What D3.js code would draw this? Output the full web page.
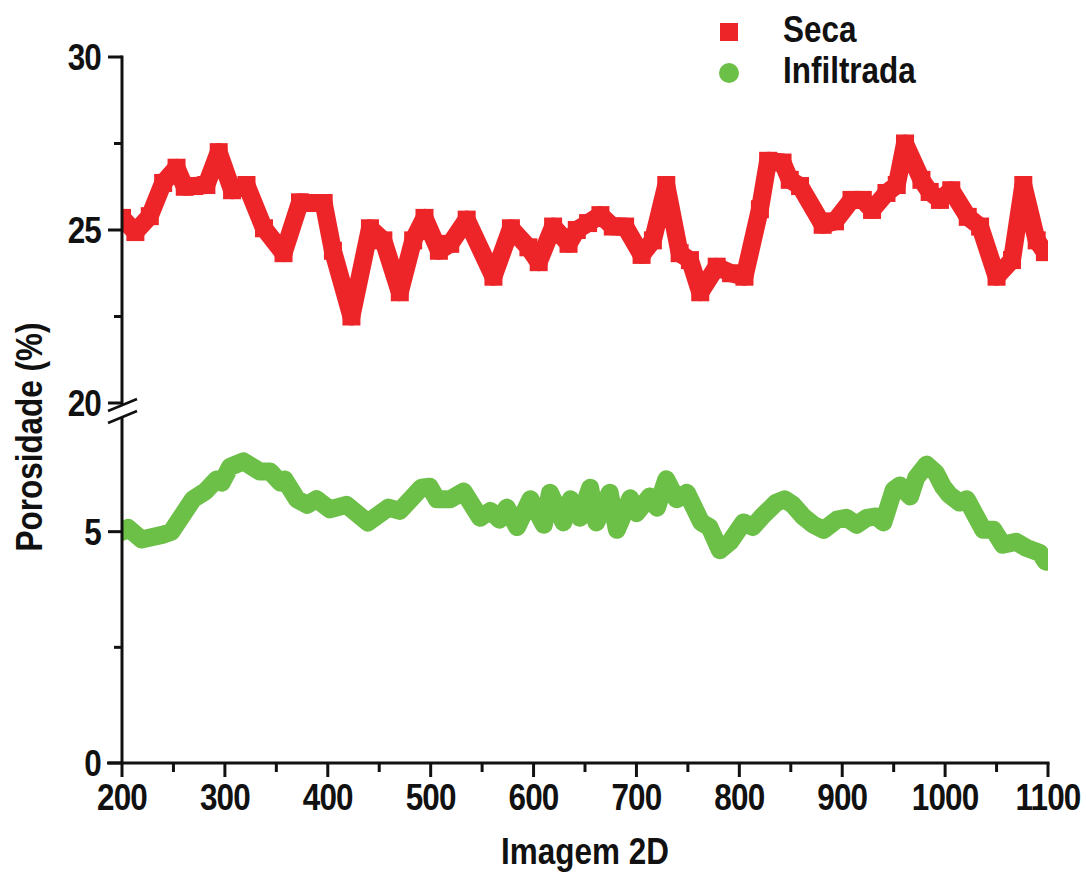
<!DOCTYPE html>
<html><head><meta charset="utf-8">
<script src="https://cdn.jsdelivr.net/npm/d3@7"></script>
<style>
html,body{margin:0;padding:0;background:#fff;}
text{font-family:"Liberation Sans",Arial,sans-serif;font-weight:bold;fill:#111;}
</style></head><body>
<svg id="chart" width="1086" height="873"></svg>
<script>
// ---- data ----
const secaX = [200,213,227,240,253,261,270,282,294,307,321,338,357,373,380,396,405,423,441,454,470,483,494,508,519,535,561,578,595,605,619,634,642,653,665,677,689,705,716,729,742,752,762,778,792,805,820,828,842,849,859,881,893,909,920,929,943,953,961,977,985,995,1006,1022,1034,1050,1065,1076,1089,1097];
const secaY = [25.35,24.94,25.4,26.36,26.8,26.25,26.27,26.3,27.25,26.15,26.3,25.05,24.33,25.8,25.78,25.78,24.4,22.5,25.05,24.7,23.2,24.7,25.35,24.4,24.6,25.3,23.65,25.05,24.5,24.07,25.1,24.6,25.0,25.2,25.43,25.1,25.1,24.28,24.7,26.3,24.33,24.13,23.2,23.94,23.75,23.65,25.6,27.0,26.95,26.45,26.27,25.15,25.25,25.87,25.87,25.58,26.07,26.3,27.5,26.45,26.1,25.87,26.15,25.38,25.1,23.65,24.13,26.3,24.7,24.36];
const infX = [200,206,219,239,248,269,281,292,297,305,318,334,344,354,358,370,380,389,402,418,439,459,470,491,499,506,519,532,548,558,567,574,584,597,610,616,629,636,645,655,661,674,681,694,700,713,720,729,739,749,763,771,781,791,804,813,823,836,844,852,862,872,882,895,904,914,924,933,940,950,956,966,972,982,991,998,1004,1014,1021,1030,1037,1047,1056,1069,1079,1092,1098];
const infY = [5.0,5.08,4.83,4.93,5.0,5.7,5.87,6.13,6.06,6.4,6.52,6.3,6.3,6.06,6.13,5.7,5.58,5.7,5.48,5.58,5.2,5.52,5.45,5.95,5.97,5.7,5.7,5.87,5.3,5.45,5.26,5.52,5.1,5.7,5.15,5.84,5.2,5.7,5.3,5.95,5.2,5.84,5.04,5.72,5.4,5.76,5.52,6.13,5.7,5.84,5.2,5.1,4.6,4.78,5.2,5.1,5.35,5.63,5.7,5.58,5.33,5.15,5.04,5.26,5.3,5.15,5.3,5.33,5.2,5.9,6.0,5.76,6.17,6.45,6.27,5.97,5.8,5.63,5.7,5.33,5.04,5.04,4.72,4.78,4.65,4.54,4.35];
const xTicks = [200,300,400,500,600,700,800,900,1000,1100];
const xMinor = [250,350,450,550,650,750,850,950,1050];
const yUpperTicks = [20,25,30];
const yUpperMinor = [22.5,27.5];
const yLowerTicks = [0,5];
const yLowerMinor = [2.5];
const seriesNames = ["Seca","Infiltrada"];
const colors = {Seca:"#ED2529", Infiltrada:"#6CBF47"};

// ---- scales ----
const x = d3.scaleLinear().domain([200,1100]).range([122,1048]);
const yU = d3.scaleLinear().domain([20,30]).range([403,57]);
const yL = d3.scaleLinear().domain([0,7.5]).range([763,416]);
const SX = 0.85, FS = 37;

const svg = d3.select("#chart");
const defs = svg.append("defs");
defs.append("clipPath").attr("id","clip").append("rect").attr("x",122).attr("y",0).attr("width",926).attr("height",873);

const plot = svg.append("g").attr("clip-path","url(#clip)");
// Seca (upper)
const seca = secaX.map((d,i)=>({x:d,y:secaY[i]}));
plot.append("path").datum(seca)
  .attr("d", d3.line().x(d=>x(d.x)).y(d=>yU(d.y)))
  .attr("fill","none").attr("stroke",colors.Seca).attr("stroke-width",18)
  .attr("stroke-linejoin","round");
plot.selectAll("rect.sq").data(seca).join("rect").attr("class","sq")
  .attr("x",d=>x(d.x)-9).attr("y",d=>yU(d.y)-9).attr("width",18).attr("height",18)
  .attr("fill",colors.Seca);
// Infiltrada (lower)
const inf = infX.map((d,i)=>({x:d,y:infY[i]}));
plot.append("path").datum(inf)
  .attr("d", d3.line().x(d=>x(d.x)).y(d=>yL(d.y)))
  .attr("fill","none").attr("stroke",colors.Infiltrada).attr("stroke-width",18)
  .attr("stroke-linejoin","round").attr("stroke-linecap","round");

// ---- axes ----
const ax = svg.append("g").attr("stroke","#111").attr("stroke-width",3).attr("fill","none");
// x axis
ax.append("line").attr("x1",107).attr("x2",x(1100)+1.5).attr("y1",763).attr("y2",763);
ax.selectAll("line.xt").data(xTicks).join("line").attr("class","xt")
  .attr("x1",d=>x(d)).attr("x2",d=>x(d)).attr("y1",763).attr("y2",777);
ax.selectAll("line.xm").data(xMinor).join("line").attr("class","xm")
  .attr("x1",d=>x(d)).attr("x2",d=>x(d)).attr("y1",763).attr("y2",772);
// y axis segments
ax.append("line").attr("x1",122).attr("x2",122).attr("y1",yU(30)-1.5).attr("y2",405);
ax.append("line").attr("x1",122).attr("x2",122).attr("y1",417).attr("y2",763);
ax.selectAll("line.yut").data(yUpperTicks).join("line").attr("class","yut")
  .attr("x1",108).attr("x2",122).attr("y1",d=>yU(d)).attr("y2",d=>yU(d));
ax.selectAll("line.yum").data(yUpperMinor).join("line").attr("class","yum")
  .attr("x1",114).attr("x2",122).attr("y1",d=>yU(d)).attr("y2",d=>yU(d));
ax.selectAll("line.ylt").data(yLowerTicks).join("line").attr("class","ylt")
  .attr("x1",108).attr("x2",122).attr("y1",d=>yL(d)).attr("y2",d=>yL(d));
ax.selectAll("line.ylm").data(yLowerMinor).join("line").attr("class","ylm")
  .attr("x1",114).attr("x2",122).attr("y1",d=>yL(d)).attr("y2",d=>yL(d));
// break marks
ax.append("line").attr("x1",108).attr("y1",411).attr("x2",137).attr("y2",399).attr("stroke-width",2.5);
ax.append("line").attr("x1",108).attr("y1",423).attr("x2",137).attr("y2",411).attr("stroke-width",2.5);

// ---- labels ----
function label(g, tx, ty, str, anchor, rot, ls){
  const t = g.append("g").attr("transform",`translate(${tx},${ty}) rotate(${rot||0}) scale(${SX},1)`)
    .append("text").attr("text-anchor",anchor).attr("font-size",FS).text(str);
  if(ls) t.attr("letter-spacing",ls);
  return t;
}
const lab = svg.append("g");
xTicks.forEach(v=>label(lab, x(v), 810, String(v), "middle", 0, -1));
yUpperTicks.forEach(v=>label(lab, 101, yU(v)+13, String(v), "end", 0, -1));
yLowerTicks.forEach(v=>label(lab, 101, yL(v)+13, String(v), "end", 0, -1));
label(lab, 585, 864, "Imagem 2D", "middle");
label(lab, 42, 437, "Porosidade (%)", "middle", -90);

// ---- legend ----
const leg = svg.append("g");
leg.append("rect").attr("x",720).attr("y",23).attr("width",18).attr("height",18).attr("fill",colors.Seca);
leg.append("circle").attr("cx",729).attr("cy",73).attr("r",10).attr("fill",colors.Infiltrada);
label(leg, 783, 42, seriesNames[0], "start");
label(leg, 783, 83, seriesNames[1], "start");
</script></body></html>
